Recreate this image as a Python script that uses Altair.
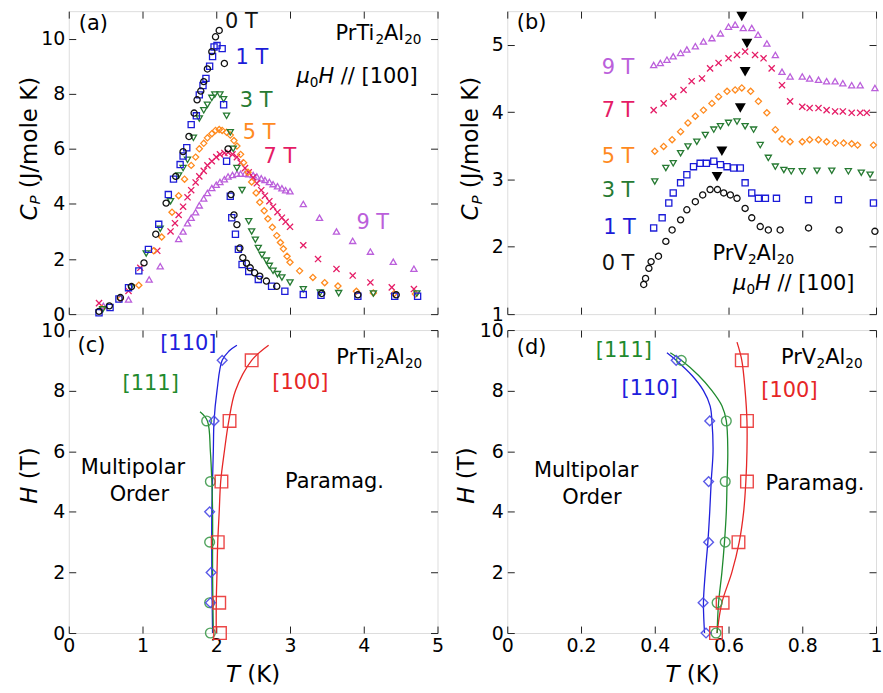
import altair as alt
import pandas as pd

FONT = "DejaVu Sans"
TICK_FS = 19
TXT_FS = 21
TITLE_FS = 23

# ---------------- (a) PrTi2Al20 : C_P vs T ----------------
a_T_0 = [0.41, 0.55, 0.70, 0.85, 1.02, 1.18, 1.32, 1.45, 1.55, 1.63, 1.70, 1.74, 1.79, 1.83, 1.88, 1.94, 1.99, 2.04,
         2.11, 2.16, 2.20, 2.24, 2.28, 2.32, 2.36, 2.41, 2.46, 2.52, 2.59, 2.68, 2.82, 3.43, 3.92, 4.44]
a_C_0 = [0.10, 0.30, 0.60, 1.00, 1.86, 2.90, 4.03, 5.00, 5.90, 6.45, 7.30, 7.78, 8.10, 8.44, 8.90, 9.53, 10.07, 10.30,
         9.10, 6.00, 4.34, 3.60, 3.25, 2.40, 2.05, 1.85, 1.68, 1.50, 1.38, 1.20, 1.01, 0.75, 0.70, 0.70]
a_T_1 = [0.41, 0.56, 0.68, 0.81, 0.95, 1.08, 1.22, 1.35, 1.42, 1.51, 1.55, 1.60, 1.66, 1.73, 1.77, 1.82, 1.86, 1.91,
         1.95, 1.97, 2.01, 2.08, 2.10, 2.14, 2.19, 2.21, 2.26, 2.30, 2.35, 2.44, 2.57, 2.75, 2.93, 3.18, 3.42, 3.92,
         4.42, 4.73]
a_C_1 = [0.05, 0.24, 0.55, 0.96, 1.57, 2.35, 3.26, 4.34, 4.90, 5.43, 5.74, 6.04, 6.88, 7.20, 7.96, 8.30, 8.56, 9.00,
         9.35, 9.70, 9.75, 9.64, 7.60, 5.55, 4.28, 3.50, 2.90, 2.35, 1.80, 1.55, 1.26, 1.01, 0.83, 0.71, 0.68, 0.65,
         0.65, 0.65]
a_T_3 = [0.46, 0.84, 1.05, 1.24, 1.38, 1.49, 1.55, 1.61, 1.69, 1.77, 1.83, 1.88, 1.94, 1.98, 2.05, 2.10, 2.14, 2.19,
         2.23, 2.28, 2.35, 2.44, 2.48, 2.53, 2.57, 2.62, 2.68, 2.72, 2.77, 2.83, 2.89, 3.00, 3.18, 3.41, 3.66, 4.13, 4.72]
a_C_3 = [0.17, 0.97, 2.20, 3.10, 4.10, 5.03, 5.30, 5.60, 6.40, 7.10, 7.40, 7.60, 7.85, 7.97, 7.97, 7.80, 7.20, 6.60,
         6.00, 5.30, 4.50, 3.37, 3.00, 2.70, 2.40, 2.15, 1.94, 1.75, 1.57, 1.45, 1.33, 1.15, 0.90, 0.78, 0.76, 0.75, 0.75]
a_T_5 = [0.45, 0.70, 0.95, 1.15, 1.26, 1.40, 1.49, 1.57, 1.66, 1.72, 1.77, 1.83, 1.88, 1.94, 1.99, 2.04, 2.08, 2.14,
         2.19, 2.24, 2.28, 2.33, 2.37, 2.43, 2.48, 2.54, 2.59, 2.65, 2.70, 2.76, 2.82, 2.87, 2.91, 2.96, 3.00, 3.13,
         3.31, 3.47, 3.65, 3.90, 4.13, 4.41, 4.70]
a_C_5 = [0.20, 0.55, 1.05, 2.30, 2.80, 3.70, 4.30, 4.90, 5.40, 5.70, 6.00, 6.20, 6.40, 6.55, 6.67, 6.70, 6.67, 6.60,
         6.50, 6.30, 6.10, 5.80, 5.50, 5.15, 4.80, 4.40, 4.06, 3.75, 3.46, 3.15, 2.85, 2.60, 2.37, 2.10, 1.88, 1.57,
         1.33, 1.14, 1.02, 0.83, 0.77, 0.74, 0.73]
a_T_7 = [0.41, 0.81, 0.97, 1.20, 1.38, 1.44, 1.49, 1.55, 1.61, 1.66, 1.72, 1.77, 1.83, 1.88, 1.94, 2.00, 2.05, 2.11,
         2.16, 2.22, 2.28, 2.33, 2.39, 2.44, 2.50, 2.55, 2.61, 2.66, 2.72, 2.77, 2.83, 2.89, 2.94, 3.00, 3.18, 3.38,
         3.63, 3.85, 4.09, 4.38, 4.68]
a_C_7 = [0.40, 0.84, 1.68, 2.30, 3.00, 3.30, 3.60, 3.90, 4.24, 4.50, 4.78, 5.00, 5.20, 5.40, 5.55, 5.70, 5.80, 5.85,
         5.87, 5.80, 5.70, 5.50, 5.30, 5.15, 4.96, 4.75, 4.50, 4.30, 4.10, 3.90, 3.70, 3.50, 3.35, 3.17, 2.50, 2.00,
         1.64, 1.40, 1.15, 0.97, 0.91]
a_T_9 = [0.47, 0.81, 1.09, 1.24, 1.49, 1.55, 1.61, 1.66, 1.72, 1.77, 1.83, 1.88, 1.94, 2.00, 2.05, 2.11, 2.16, 2.22,
         2.28, 2.33, 2.39, 2.44, 2.50, 2.55, 2.61, 2.66, 2.72, 2.77, 2.83, 2.89, 2.94, 3.00, 3.18, 3.40, 3.63, 3.85,
         4.09, 4.40, 4.68]
a_C_9 = [0.30, 0.53, 1.26, 1.74, 2.73, 3.00, 3.30, 3.50, 3.70, 3.95, 4.20, 4.40, 4.58, 4.70, 4.80, 4.90, 5.00, 5.05,
         5.10, 5.10, 5.10, 5.08, 5.05, 5.00, 4.93, 4.87, 4.80, 4.72, 4.64, 4.57, 4.50, 4.46, 4.00, 3.50, 3.00, 2.66,
         2.27, 1.90, 1.65]

# ---------------- (b) PrV2Al20 : C_P vs T ----------------
b_T_0 = [0.370, 0.375, 0.384, 0.390, 0.410, 0.430, 0.447, 0.470, 0.487, 0.510, 0.530, 0.550, 0.570, 0.587, 0.605,
         0.623, 0.645, 0.663, 0.686, 0.708, 0.740, 0.817, 0.900, 0.997]
b_C_0 = [1.44, 1.53, 1.68, 1.78, 1.86, 2.08, 2.25, 2.40, 2.55, 2.67, 2.77, 2.85, 2.85, 2.80, 2.77, 2.72, 2.57, 2.43,
         2.30, 2.25, 2.25, 2.28, 2.25, 2.23]
b_T_1 = [0.397, 0.420, 0.438, 0.450, 0.470, 0.487, 0.505, 0.523, 0.540, 0.560, 0.578, 0.596, 0.614, 0.632, 0.645,
         0.663, 0.681, 0.700, 0.730, 0.817, 0.898, 0.993]
b_C_1 = [2.28, 2.43, 2.65, 2.80, 2.95, 3.07, 3.19, 3.24, 3.24, 3.27, 3.22, 3.19, 3.17, 3.17, 2.95, 2.80, 2.72, 2.72,
         2.72, 2.70, 2.70, 2.65]
b_T_3 = [0.400, 0.430, 0.450, 0.470, 0.490, 0.514, 0.537, 0.560, 0.578, 0.600, 0.623, 0.645, 0.668, 0.686, 0.708,
         0.727, 0.750, 0.770, 0.800, 0.840, 0.880, 0.925, 0.960, 0.984]
b_C_3 = [2.97, 3.17, 3.24, 3.39, 3.49, 3.56, 3.66, 3.74, 3.79, 3.84, 3.86, 3.79, 3.74, 3.51, 3.32, 3.19, 3.14, 3.12,
         3.12, 3.13, 3.13, 3.12, 3.10, 3.07]
b_T_5 = [0.400, 0.424, 0.447, 0.470, 0.490, 0.510, 0.532, 0.555, 0.573, 0.596, 0.618, 0.636, 0.660, 0.681, 0.704,
         0.727, 0.745, 0.767, 0.800, 0.820, 0.844, 0.866, 0.890, 0.912, 0.934, 0.950, 0.993]
b_C_5 = [3.42, 3.49, 3.59, 3.71, 3.84, 3.94, 4.03, 4.13, 4.23, 4.31, 4.33, 4.36, 4.31, 4.16, 3.99, 3.74, 3.60, 3.56,
         3.56, 3.59, 3.59, 3.56, 3.54, 3.54, 3.53, 3.51, 3.51]
b_T_7 = [0.397, 0.424, 0.450, 0.478, 0.500, 0.528, 0.550, 0.573, 0.600, 0.623, 0.645, 0.672, 0.695, 0.717, 0.745,
         0.767, 0.800, 0.820, 0.844, 0.866, 0.889, 0.910, 0.934, 0.957, 0.975]
b_C_7 = [4.03, 4.13, 4.23, 4.33, 4.46, 4.50, 4.65, 4.73, 4.80, 4.85, 4.90, 4.85, 4.80, 4.65, 4.40, 4.16, 4.08, 4.06,
         4.06, 4.03, 4.01, 4.01, 3.99, 3.99, 3.99]
b_T_9 = [0.397, 0.415, 0.433, 0.450, 0.470, 0.487, 0.510, 0.532, 0.555, 0.578, 0.600, 0.618, 0.640, 0.663, 0.680,
         0.704, 0.727, 0.745, 0.767, 0.800, 0.820, 0.844, 0.866, 0.889, 0.910, 0.934, 0.957, 0.997]
b_C_9 = [4.70, 4.73, 4.78, 4.83, 4.88, 4.93, 4.98, 5.05, 5.10, 5.17, 5.27, 5.30, 5.25, 5.25, 5.15, 5.02, 4.85, 4.60,
         4.53, 4.53, 4.50, 4.48, 4.46, 4.46, 4.43, 4.40, 4.40, 4.36]
b_arrow_T = [0.636, 0.650, 0.645, 0.632, 0.582, 0.569]
b_arrow_C = [5.42, 5.02, 4.60, 4.06, 3.42, 3.04]

# ---------------- (c) PrTi2Al20 phase diagram ----------------
c_sq_H = [0, 1, 3, 5, 7, 9]
c_sq_T = [2.05, 2.04, 2.02, 2.07, 2.18, 2.48]
c_line100_H = [0, 1, 2, 3, 4, 5, 6, 7, 8, 9, 9.5]
c_line100_T = [2.00, 2.00, 2.01, 2.02, 2.04, 2.06, 2.11, 2.17, 2.26, 2.48, 2.71]
c_dia_H = [1, 2, 4, 7, 9]
c_dia_T = [1.92, 1.93, 1.91, 1.97, 2.08]
c_line110_H = [0, 2, 4, 6, 7, 8, 9, 9.3, 9.5]
c_line110_T = [1.95, 1.94, 1.94, 1.96, 1.97, 2.01, 2.08, 2.17, 2.28]
c_cir_H = [0, 1, 3, 5, 7]
c_cir_T = [1.92, 1.91, 1.91, 1.92, 1.87]
c_line111_H = [0, 2, 4, 5, 6, 7, 7.3]
c_line111_T = [1.96, 1.95, 1.95, 1.94, 1.92, 1.88, 1.78]

# ---------------- (d) PrV2Al20 phase diagram ----------------
d_sq_H = [0, 1, 3, 5, 7, 9]
d_sq_T = [0.566, 0.584, 0.627, 0.650, 0.650, 0.636]
d_line100_H = [0, 1, 2, 3, 4, 5, 6, 7, 8, 9, 9.6]
d_line100_T = [0.569, 0.582, 0.609, 0.629, 0.641, 0.647, 0.650, 0.650, 0.645, 0.636, 0.623]
d_cir_H = [0, 1, 3, 5, 7, 9]
d_cir_T = [0.566, 0.569, 0.591, 0.591, 0.594, 0.472]
d_line111_H = [0, 1, 2, 3, 4, 5, 6, 7, 7.5, 8, 8.5, 9, 9.25]
d_line111_T = [0.569, 0.573, 0.582, 0.589, 0.594, 0.596, 0.598, 0.594, 0.582, 0.555, 0.519, 0.472, 0.442]
d_dia_H = [0, 1, 3, 5, 7, 9]
d_dia_T = [0.539, 0.531, 0.546, 0.546, 0.549, 0.458]
d_line110_H = [0, 1, 2, 3, 4, 5, 6, 7, 7.5, 8, 8.5, 9, 9.25]
d_line110_T = [0.535, 0.532, 0.537, 0.544, 0.549, 0.553, 0.558, 0.555, 0.550, 0.532, 0.501, 0.458, 0.433]

field_names = ["0 T", "1 T", "3 T", "5 T", "7 T", "9 T"]
field_colors = ["#111111", "#1c1cd8", "#267a32", "#ff8a1e", "#e51c66", "#bb5fdb"]
field_shapes = ["circle", "square", "triangle-down", "diamond", "M-1,-1L1,1M-1,1L1,-1", "triangle-up"]

dir_names = ["[100]", "[110]", "[111]"]
dir_line_colors = ["#e62626", "#2020dc", "#1f8a2e"]
dir_mark_colors = ["#ea3434", "#4a4ae6", "#3f9b4e"]

# DejaVu Sans advance widths (em)
W = {"P": 0.603, "r": 0.411, "T": 0.611, "i": 0.278, "A": 0.684, "l": 0.278, "V": 0.684, " ": 0.318,
     "/": 0.337, "[": 0.390, "]": 0.390, "H": 0.752, "μ": 0.636, "C": 0.698, "(": 0.390, ")": 0.390,
     "J": 0.295, "m": 0.974, "o": 0.612, "e": 0.615, "K": 0.656, "M": 0.863, "u": 0.634, "a": 0.613,
     "p": 0.635, "g": 0.635, ".": 0.318, "d": 0.635, "b": 0.635, "c": 0.550, "O": 0.787}


def tw(s, size):
    return sum(W.get(ch, 0.636) for ch in s) * size


def rich(pieces, x, y, size, color, xs=None, ys=None, angle=0, anchor="left", pixel=False):
    # a leading space in a piece is turned into an offset (SVG drops leading blanks)
    sizes = [size * 0.65 if "s" in k else size for _, k in pieces]
    total = sum(tw(t, fs) for (t, _), fs in zip(pieces, sizes))
    off = {"left": 0.0, "center": -total / 2.0, "right": -total}[anchor]
    out = []
    for (t, k), fs in zip(pieces, sizes):
        lead = len(t) - len(t.lstrip(" "))
        off += lead * W[" "] * fs
        t2 = t.lstrip(" ")
        m = alt.Chart(pd.DataFrame({"x": [x], "y": [y]})).mark_text(
            text=t2, font=FONT, fontSize=fs, fontStyle="italic" if "i" in k else "normal",
            color=color, align="left", baseline="middle", dx=off,
            dy=size * 0.28 if "s" in k else 0, angle=angle)
        if pixel:
            m = m.encode(x=alt.value(x), y=alt.value(y))
        else:
            m = m.encode(x=alt.X("x:Q", scale=xs, axis=None), y=alt.Y("y:Q", scale=ys, axis=None))
        out.append(m)
        off += tw(t2, fs)
    return out


def ax(orient, values, labels, fmt):
    return alt.Axis(orient=orient, values=values, labels=labels, format=fmt, tickSize=7, offset=-7,
                    domain=False, grid=False, tickColor="#222222", tickWidth=1, labelFont=FONT,
                    labelFontSize=TICK_FS, labelColor="black", labelPadding=4, labelFlush=False,
                    labelOverlap=False, title=None)


def frames(xd, yd, xs, ys, xvals, yvals, xlab, xfmt, yfmt):
    df = pd.DataFrame({"x": [xd[0]], "y": [yd[0]]})
    f1 = alt.Chart(df).mark_point(opacity=0).encode(
        x=alt.X("x:Q", scale=xs, axis=ax("bottom", xvals, xlab, xfmt)),
        y=alt.Y("y:Q", scale=ys, axis=ax("left", yvals, True, yfmt)))
    f2 = alt.Chart(df).mark_point(opacity=0).encode(
        x=alt.X("x:Q", scale=xs, axis=ax("top", xvals, False, xfmt)),
        y=alt.Y("y:Q", scale=ys, axis=ax("right", yvals, False, yfmt)))
    return [f1, f2]


def sc(d):
    return alt.Scale(domain=d, nice=False, zero=False)


def cp_points(Ts, Cs, xs, ys):
    rows = []
    order = [5, 4, 3, 2, 1, 0]
    for i in order:
        for t, c in zip(Ts[i], Cs[i]):
            rows.append({"x": t, "y": c, "s": field_names[i]})
    df = pd.DataFrame(rows)
    return alt.Chart(df).mark_point(filled=False, size=38, strokeWidth=1.3, opacity=1).encode(
        x=alt.X("x:Q", scale=xs, axis=None), y=alt.Y("y:Q", scale=ys, axis=None),
        color=alt.Color("s:N", scale=alt.Scale(domain=field_names, range=field_colors), legend=None),
        shape=alt.Shape("s:N", scale=alt.Scale(domain=field_names, range=field_shapes), legend=None))


def guard(x, y):
    return alt.Chart(pd.DataFrame({"g": [0]})).mark_rule(strokeOpacity=0, strokeWidth=1).encode(
        x=alt.value(x), x2=alt.value(x), y=alt.value(y), y2=alt.value(y + 0.5))


PANEL_W, PANEL_H = 370, 304

# ---------- panel (a) ----------
xa, ya = [0, 5], [0, 11]
xsa, ysa = sc(xa), sc(ya)
la = frames(xa, ya, xsa, ysa, [0, 1, 2, 3, 4, 5], [0, 2, 4, 6, 8, 10], False, "d", "d")
la.append(cp_points([a_T_0, a_T_1, a_T_3, a_T_5, a_T_7, a_T_9],
                    [a_C_0, a_C_1, a_C_3, a_C_5, a_C_7, a_C_9], xsa, ysa))
la += rich([("(a)", "n")], 0.135, 10.54, TXT_FS, "black", xsa, ysa)
a_lab_pos = [(2.12, 10.62), (2.26, 9.28), (2.32, 7.72), (2.36, 6.56), (2.64, 5.72), (3.90, 3.30)]
for i, (px, py) in enumerate(a_lab_pos):
    la += rich([(field_names[i], "n")], px, py, TXT_FS, field_colors[i], xsa, ysa)
la += rich([("PrTi", "n"), ("2", "s"), ("Al", "n"), ("20", "s")], 4.2, 10.18, TXT_FS, "black", xsa, ysa,
           anchor="center")
la += rich([("μ", "i"), ("0", "s"), ("H", "i"), (" // [100]", "n")], 3.91, 8.62, TXT_FS, "black",
           xsa, ysa, anchor="center")
la += rich([("C", "i"), ("P", "si"), (" (J/mole K)", "n")], -39, 138, TITLE_FS, "black", angle=270,
           anchor="center", pixel=True)
la.append(guard(-68, -9))
pa = alt.layer(*la).resolve_axis(x="independent", y="independent").properties(width=PANEL_W, height=PANEL_H)

# ---------- panel (b) ----------
xb, yb = [0, 1], [1, 5.5]
xsb, ysb = sc(xb), sc(yb)
lb = frames(xb, yb, xsb, ysb, [0, 0.2, 0.4, 0.6, 0.8, 1], [1, 2, 3, 4, 5], False, "~g", "d")
lb.append(cp_points([b_T_0, b_T_1, b_T_3, b_T_5, b_T_7, b_T_9],
                    [b_C_0, b_C_1, b_C_3, b_C_5, b_C_7, b_C_9], xsb, ysb))
lb.append(alt.Chart(pd.DataFrame({"x": b_arrow_T, "y": b_arrow_C})).mark_point(
    shape="triangle-down", filled=True, size=120, color="black", opacity=1).encode(
    x=alt.X("x:Q", scale=xsb, axis=None), y=alt.Y("y:Q", scale=ysb, axis=None)))
lb += rich([("(b)", "n")], 0.026, 5.32, TXT_FS, "black", xsb, ysb)
b_lab_pos = [(0.256, 1.74), (0.26, 2.28), (0.256, 2.83), (0.256, 3.34), (0.256, 4.01), (0.256, 4.65)]
for i, (px, py) in enumerate(b_lab_pos):
    lb += rich([(field_names[i], "n")], px, py, TXT_FS, field_colors[i], xsb, ysb)
lb += rich([("PrV", "n"), ("2", "s"), ("Al", "n"), ("20", "s")], 0.667, 1.89, TXT_FS, "black", xsb, ysb,
           anchor="center")
lb += rich([("μ", "i"), ("0", "s"), ("H", "i"), (" // [100]", "n")], 0.777, 1.45, TXT_FS, "black",
           xsb, ysb, anchor="center")
lb += rich([("C", "i"), ("P", "si"), (" (J/mole K)", "n")], -36, 138, TITLE_FS, "black", angle=270,
           anchor="center", pixel=True)
lb.append(guard(375, -9))
pb = alt.layer(*lb).resolve_axis(x="independent", y="independent").properties(width=PANEL_W, height=PANEL_H)


def phase_layers(lines, marks, xs, ys):
    out = []
    for name, Hs, Ts in lines:
        col = dir_line_colors[dir_names.index(name)]
        df = pd.DataFrame({"x": Ts, "y": Hs, "o": list(range(len(Hs)))})
        out.append(alt.Chart(df).mark_line(strokeWidth=1.3, interpolate="catmull-rom", color=col).encode(
            x=alt.X("x:Q", scale=xs, axis=None), y=alt.Y("y:Q", scale=ys, axis=None), order="o:Q"))
    for name, Hs, Ts, shape, size in marks:
        col = dir_mark_colors[dir_names.index(name)]
        out.append(alt.Chart(pd.DataFrame({"x": Ts, "y": Hs})).mark_point(
            shape=shape, size=size, filled=False, strokeWidth=1.4, color=col, opacity=0.9).encode(
            x=alt.X("x:Q", scale=xs, axis=None), y=alt.Y("y:Q", scale=ys, axis=None)))
    return out


# ---------- panel (c) ----------
xc, yc = [0, 5], [0, 10]
xsc, ysc = sc(xc), sc(yc)
lc = frames(xc, yc, xsc, ysc, [0, 1, 2, 3, 4, 5], [0, 2, 4, 6, 8, 10], True, "d", "d")
lc += phase_layers(
    [("[100]", c_line100_H, c_line100_T), ("[110]", c_line110_H, c_line110_T), ("[111]", c_line111_H, c_line111_T)],
    [("[111]", c_cir_H, c_cir_T, "circle", 95), ("[110]", c_dia_H, c_dia_T, "diamond", 95),
     ("[100]", c_sq_H, c_sq_T, "square", 160)], xsc, ysc)
lc += rich([("(c)", "n")], 0.12, 9.47, TXT_FS, "black", xsc, ysc)
lc += rich([("[110]", "n")], 1.24, 9.54, TXT_FS, dir_line_colors[1], xsc, ysc)
lc += rich([("[111]", "n")], 0.73, 8.22, TXT_FS, dir_line_colors[2], xsc, ysc)
lc += rich([("[100]", "n")], 2.76, 8.26, TXT_FS, dir_line_colors[0], xsc, ysc)
lc += rich([("PrTi", "n"), ("2", "s"), ("Al", "n"), ("20", "s")], 4.21, 9.08, TXT_FS, "black", xsc, ysc,
           anchor="center")
lc += rich([("Multipolar", "n")], 0.905, 5.43, TXT_FS, "black", xsc, ysc, anchor="center")
lc += rich([("Order", "n")], 0.96, 4.54, TXT_FS, "black", xsc, ysc, anchor="center")
lc += rich([("Paramag.", "n")], 3.61, 4.97, TXT_FS, "black", xsc, ysc, anchor="center")
lc += rich([("H", "i"), (" (T)", "n")], -39, 146, TITLE_FS, "black", angle=270, anchor="center", pixel=True)
lc += rich([("T", "i"), (" (K)", "n")], 185, 346, TITLE_FS, "black", anchor="center", pixel=True)
lc.append(guard(0, 363.5))
pc = alt.layer(*lc).resolve_axis(x="independent", y="independent").properties(width=PANEL_W, height=PANEL_H)

# ---------- panel (d) ----------
xdd, ydd = [0, 1], [0, 10]
xsd, ysd = sc(xdd), sc(ydd)
ld = frames(xdd, ydd, xsd, ysd, [0, 0.2, 0.4, 0.6, 0.8, 1], [0, 2, 4, 6, 8, 10], True, "~g", "d")
ld += phase_layers(
    [("[100]", d_line100_H, d_line100_T), ("[110]", d_line110_H, d_line110_T), ("[111]", d_line111_H, d_line111_T)],
    [("[111]", d_cir_H, d_cir_T, "circle", 95), ("[110]", d_dia_H, d_dia_T, "diamond", 95),
     ("[100]", d_sq_H, d_sq_T, "square", 160)], xsd, ysd)
ld += rich([("(d)", "n")], 0.026, 9.41, TXT_FS, "black", xsd, ysd)
ld += rich([("[111]", "n")], 0.24, 9.31, TXT_FS, dir_line_colors[2], xsd, ysd)
ld += rich([("[110]", "n")], 0.31, 8.06, TXT_FS, dir_line_colors[1], xsd, ysd)
ld += rich([("[100]", "n")], 0.689, 7.99, TXT_FS, dir_line_colors[0], xsd, ysd)
ld += rich([("PrV", "n"), ("2", "s"), ("Al", "n"), ("20", "s")], 0.853, 9.08, TXT_FS, "black", xsd, ysd,
           anchor="center")
ld += rich([("Multipolar", "n")], 0.221, 5.36, TXT_FS, "black", xsd, ysd, anchor="center")
ld += rich([("Order", "n")], 0.23, 4.47, TXT_FS, "black", xsd, ysd, anchor="center")
ld += rich([("Paramag.", "n")], 0.836, 4.93, TXT_FS, "black", xsd, ysd, anchor="center")
ld += rich([("H", "i"), (" (T)", "n")], -40, 146, TITLE_FS, "black", angle=270, anchor="center", pixel=True)
ld += rich([("T", "i"), (" (K)", "n")], 186, 346, TITLE_FS, "black", anchor="center", pixel=True)
pd_ = alt.layer(*ld).resolve_axis(x="independent", y="independent").properties(width=PANEL_W, height=PANEL_H)

chart = alt.concat(pa, pb, pc, pd_, columns=2, spacing={"row": 16, "column": 70}, bounds="flush").properties(
    padding=0).configure_view(stroke="#222222", strokeWidth=1).configure(font=FONT)

chart.save("out.html", embed_options={"renderer": "svg", "actions": False})
